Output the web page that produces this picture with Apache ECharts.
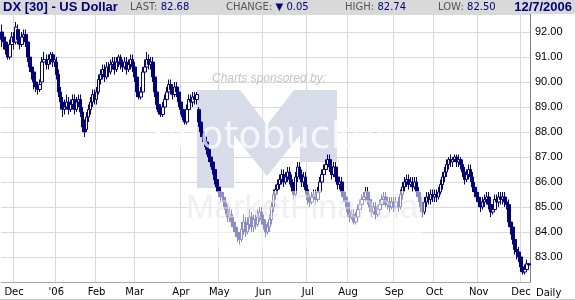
<!DOCTYPE html>
<html>
<head>
<meta charset="utf-8">
<script src="https://cdn.jsdelivr.net/npm/echarts@6/dist/echarts.min.js"></script>
<style>html,body{margin:0;padding:0;background:#fff}#c{width:575px;height:300px}</style>
</head>
<body>
<div id="c"></div>
<script>
// ---- data ----
const tradeMonths = ['2005-11','2005-12','2006-01','2006-02','2006-03','2006-04','2006-05','2006-06','2006-07','2006-08','2006-09','2006-10','2006-11','2006-12'];
const monthLabels = ['', 'Dec', "'06", 'Feb', 'Mar', 'Apr', 'May', 'Jun', 'Jul', 'Aug', 'Sep', 'Oct', 'Nov', 'Dec'];
const tradeDays = [
  [22,23,25,28,29,30],
  [1,2,5,6,7,8,9,12,13,14,15,16,19,20,21,22,23,27,28,29,30],
  [3,4,5,6,9,10,11,12,13,17,18,19,20,23,24,25,26,27,30,31],
  [1,2,3,6,7,8,9,10,13,14,15,16,17,21,22,23,24,27,28],
  [1,2,3,6,7,8,9,10,13,14,15,16,17,20,21,22,23,24,27,28,29,30,31],
  [3,4,5,6,7,10,11,12,13,17,18,19,20,21,24,25,26,27,28],
  [1,2,3,4,5,8,9,10,11,12,15,16,17,18,19,22,23,24,25,26,30,31],
  [1,2,5,6,7,8,9,12,13,14,15,16,19,20,21,22,23,26,27,28,29,30],
  [3,5,6,7,10,11,12,13,14,17,18,19,20,21,24,25,26,27,28,31],
  [1,2,3,4,7,8,9,10,11,14,15,16,17,18,21,22,23,24,25,28,29,30,31],
  [1,5,6,7,8,11,12,13,14,15,18,19,20,21,22,25,26,27,28,29],
  [2,3,4,5,6,9,10,11,12,13,16,17,18,19,20,23,24,25,26,27,30,31],
  [1,2,3,6,7,8,9,10,13,14,15,16,17,20,21,22,24,27,28,29,30],
  [1,4,5,6,7]
];
const opens = [
  92.0,91.8,91.6,91.4,91.0,91.5,
  91.8,91.6,92.1,91.7,91.5,91.8,91.9,91.6,91.0,90.6,90.4,90.0,89.8,89.7,90.0,90.8,90.9,90.7,90.9,91.1,90.8,
  90.8,90.3,89.6,89.2,88.9,89.0,89.2,88.9,89.1,89.3,88.9,89.2,89.3,88.8,88.2,88.1,88.6,88.9,89.2,89.5,
  89.3,89.6,90.1,90.3,90.5,90.2,90.6,90.4,90.7,90.8,90.5,90.8,91.0,90.7,90.6,90.8,90.5,90.7,90.9,
  90.6,90.2,89.6,89.4,89.6,90.4,90.6,90.9,90.7,90.8,90.2,89.6,89.1,88.8,88.7,89.0,89.3,89.6,89.9,89.7,89.5,89.8,89.6,
  89.2,88.9,88.6,88.4,88.9,89.3,89.2,89.4,89.3,88.9,88.4,88.0,87.8,87.6,87.3,87.0,86.8,86.5,86.1,
  85.8,85.6,85.4,85.2,84.9,84.6,84.7,84.4,84.2,84.0,83.8,83.7,84.1,84.4,84.0,84.3,84.6,84.2,84.5,84.3,84.6,84.8,
  84.5,84.3,84.0,84.2,84.5,85.0,85.5,85.7,85.9,86.1,86.3,86.0,86.2,86.4,86.1,85.8,85.5,86.2,86.6,86.3,86.0,86.2,
  85.7,85.3,85.2,85.4,85.5,85.3,85.6,86.0,86.3,86.5,86.7,86.9,86.6,86.3,86.6,86.2,85.9,86.0,85.6,85.4,
  85.2,84.8,84.6,84.7,84.4,84.6,84.9,85.1,85.3,85.4,85.6,85.3,85.0,84.8,85.0,84.7,84.9,85.1,85.3,85.4,85.1,85.2,85.0,
  85.2,85.0,85.2,85.0,85.5,85.8,86.0,86.1,85.9,86.0,85.8,86.0,85.6,85.4,85.0,84.8,85.2,85.4,85.3,85.5,
  85.4,85.5,85.4,85.6,85.9,86.2,86.4,86.7,86.9,86.8,86.9,87.0,86.8,86.9,86.7,86.4,86.1,86.3,86.5,86.2,85.8,85.6,
  85.4,85.2,85.0,85.2,85.3,85.4,85.1,84.8,84.9,85.3,85.2,85.4,85.3,85.4,85.2,85.1,84.4,84.2,83.7,83.3,83.2,
  83.0,82.6,82.4,82.5,82.73
];
const closes = [
  91.7,91.6,91.3,91.0,91.5,91.8,
  91.6,92.2,91.7,91.5,91.8,91.9,91.6,91.0,90.6,90.4,90.0,89.8,89.7,89.9,90.8,90.9,90.7,90.9,91.1,90.8,90.9,
  90.3,89.6,89.2,88.9,89.0,89.2,88.9,89.1,89.3,88.9,89.2,89.3,88.8,88.2,88.0,88.6,88.9,89.2,89.5,89.3,
  89.6,90.1,90.3,90.5,90.2,90.6,90.4,90.7,90.8,90.5,90.8,91.0,90.7,90.6,90.8,90.5,90.7,90.9,90.6,
  90.2,89.6,89.4,89.6,90.4,90.6,90.9,90.7,90.8,90.2,89.6,89.1,88.8,88.7,89.0,89.3,89.6,89.9,89.7,89.5,89.8,89.6,89.2,
  88.9,88.6,88.4,88.9,89.3,89.2,89.4,89.3,89.5,88.4,88.0,87.8,87.6,87.3,87.0,86.8,86.5,86.1,85.8,
  85.6,85.4,85.2,84.9,84.6,84.7,84.4,84.2,84.0,83.8,83.7,84.1,84.4,84.0,84.3,84.6,84.2,84.5,84.3,84.6,84.8,84.5,
  84.3,84.0,84.2,84.5,85.0,85.5,85.7,85.9,86.1,86.3,86.0,86.2,86.4,86.1,85.8,85.5,86.2,86.6,86.3,86.0,86.2,85.7,
  85.3,85.2,85.4,85.5,85.3,85.6,86.0,86.3,86.5,86.7,86.9,86.6,86.3,86.6,86.2,85.9,86.0,85.6,85.4,85.2,
  84.8,84.6,84.7,84.4,84.6,84.9,85.1,85.3,85.4,85.6,85.3,85.0,84.8,85.0,84.7,84.9,85.1,85.3,85.4,85.1,85.2,85.0,85.2,
  85.0,85.2,85.0,85.5,85.8,86.0,86.1,85.9,86.0,85.8,86.0,85.6,85.4,85.0,84.8,85.2,85.4,85.3,85.5,85.4,
  85.5,85.4,85.6,85.9,86.2,86.4,86.7,86.9,86.8,86.9,87.0,86.8,86.9,86.7,86.4,86.1,86.3,86.5,86.2,85.8,85.6,85.4,
  85.2,85.0,85.2,85.3,85.4,85.1,84.8,84.9,85.3,85.2,85.4,85.3,85.4,85.2,85.1,84.4,84.2,83.7,83.3,83.2,83.0,
  82.6,82.4,82.5,82.73,82.68
];
const lows = [
  91.4,91.3,91.1,90.9,90.9,91.3,
  91.3,91.5,91.5,91.3,91.4,91.6,91.4,90.8,90.4,90.1,89.7,89.6,89.5,89.6,89.9,90.5,90.5,90.5,90.7,90.6,90.6,
  90.1,89.4,88.9,88.6,88.7,88.9,88.7,88.8,88.9,88.7,88.8,89.0,88.6,88.0,87.8,88.0,88.4,88.7,89.0,89.1,
  89.1,89.5,89.9,90.1,90.0,90.1,90.2,90.3,90.5,90.3,90.4,90.6,90.5,90.4,90.5,90.3,90.4,90.5,90.4,
  90.0,89.4,89.3,89.3,89.5,90.2,90.4,90.5,90.5,90.0,89.4,88.9,88.7,88.6,88.6,88.8,89.1,89.4,89.5,89.3,89.4,89.4,89.0,
  88.7,88.4,88.3,88.3,88.7,89.0,89.0,89.1,89.1,88.2,87.8,87.6,87.4,87.1,86.8,86.6,86.3,85.9,85.6,
  85.4,85.2,85.0,84.7,84.4,84.4,84.2,84.0,83.8,83.6,83.5,83.6,83.9,83.8,83.9,84.1,84.0,84.0,84.1,84.2,84.4,84.3,
  84.1,83.8,83.9,84.0,84.3,84.8,85.3,85.5,85.7,85.9,85.8,85.9,86.0,85.9,85.6,85.3,85.4,86.0,86.1,85.8,85.8,85.5,
  85.1,85.0,85.1,85.2,85.1,85.2,85.4,85.8,86.1,86.3,86.5,86.4,86.1,86.2,86.0,85.7,85.7,85.4,85.2,85.0,
  84.6,84.4,84.5,84.3,84.3,84.4,84.7,84.9,85.1,85.2,85.1,84.8,84.6,84.7,84.5,84.6,84.7,84.9,85.1,85.0,84.9,84.8,84.9,
  84.8,84.9,84.8,84.9,85.3,85.6,85.8,85.7,85.8,85.6,85.7,85.4,85.2,84.8,84.6,84.7,85.0,85.1,85.1,85.2,
  85.2,85.2,85.3,85.5,85.7,86.0,86.2,86.5,86.6,86.6,86.8,86.6,86.6,86.5,86.2,85.9,86.0,86.1,86.0,85.6,85.4,85.2,
  85.0,84.8,84.9,85.0,85.1,84.9,84.6,84.7,84.8,85.0,85.0,85.1,85.1,85.0,84.9,84.2,83.9,83.5,83.1,82.9,82.8,
  82.4,82.3,82.3,82.4,82.50
];
const highs = [
  92.3,92.0,91.8,91.6,91.7,92.0,
  92.0,92.4,92.3,91.9,92.0,92.1,92.1,91.8,91.2,90.8,90.6,90.2,90.0,90.1,91.0,91.2,91.1,91.1,91.2,91.2,91.1,
  91.0,90.5,89.8,89.4,89.3,89.5,89.4,89.3,89.5,89.5,89.4,89.5,89.5,89.0,88.5,88.8,89.1,89.4,89.7,89.7,
  89.8,90.3,90.5,90.7,90.7,90.8,90.8,90.9,91.0,91.0,91.0,91.1,91.1,90.9,91.0,91.0,90.9,91.1,91.1,
  90.8,90.4,89.8,89.8,90.6,90.9,91.2,91.1,91.0,91.0,90.4,89.8,89.3,89.0,89.2,89.5,89.8,90.1,90.1,89.9,90.0,90.0,89.8,
  89.4,89.1,88.8,89.1,89.5,89.5,89.6,89.6,89.6,89.0,88.6,88.2,88.0,87.8,87.5,87.2,87.0,86.7,86.3,
  86.0,85.8,85.6,85.4,85.1,85.0,84.9,84.6,84.4,84.2,84.0,84.4,84.7,84.6,84.6,84.9,84.8,84.7,84.7,84.9,85.0,85.0,
  84.7,84.5,84.4,84.7,85.2,85.7,85.9,86.1,86.3,86.5,86.5,86.4,86.6,86.6,86.3,86.0,86.4,86.8,86.8,86.5,86.4,86.4,
  85.9,85.5,85.6,85.7,85.7,85.8,86.2,86.5,86.7,86.9,87.1,87.1,86.8,86.8,86.8,86.4,86.2,86.2,85.8,85.6,
  85.4,85.0,84.9,84.9,84.8,85.1,85.3,85.5,85.6,85.8,85.8,85.5,85.2,85.2,85.2,85.1,85.3,85.5,85.6,85.6,85.4,85.4,85.4,
  85.4,85.4,85.4,85.7,86.0,86.2,86.3,86.3,86.2,86.2,86.2,86.2,85.8,85.6,85.2,85.4,85.6,85.6,85.7,85.7,
  85.7,85.7,85.8,86.1,86.4,86.6,86.9,87.0,87.1,87.0,87.1,87.1,87.1,87.0,86.9,86.6,86.5,86.7,86.7,86.4,86.0,85.8,
  85.6,85.4,85.4,85.5,85.6,85.6,85.3,85.1,85.5,85.5,85.6,85.6,85.6,85.6,85.4,85.3,84.6,84.4,83.9,83.6,83.4,
  83.1,82.8,82.7,82.9,82.74
];
const yTicks = { min: 82, max: 92.72, step: 1 };

// ---- build ----
const dates = [];
const monthStart = {};
tradeMonths.forEach((m, k) => {
  tradeDays[k].forEach((d, j) => {
    if (j === 0 && monthLabels[k]) monthStart[dates.length] = monthLabels[k];
    dates.push(m + '-' + String(d).padStart(2, '0'));
  });
});
const ohlc = dates.map((_, i) => [opens[i], closes[i], lows[i], highs[i]]);
const n = closes.length;
const last = closes[n - 1], prev = closes[n - 2];
const isStart = (i) => monthStart[i] !== undefined;

const NAVY = '#000080';
const chart = echarts.init(document.getElementById('c'), null, { renderer: 'canvas' });
chart.setOption({
  animation: false,
  backgroundColor: '#ffffff',
  grid: { left: 1, right: 45, top: 14, bottom: 18 },
  xAxis: {
    type: 'category',
    data: dates,
    boundaryGap: true,
    axisLine: { show: true, lineStyle: { color: '#a8a8a8', width: 1 } },
    axisTick: { show: false },
    axisLabel: {
      interval: (i) => isStart(i),
      formatter: (v, i) => monthStart[i] || '',
      color: '#000', fontSize: 10, fontFamily: 'DejaVu Sans', margin: 5
    },
    splitLine: { show: true, interval: (i) => isStart(i), lineStyle: { color: '#d9d9d9', width: 1 } }
  },
  yAxis: {
    type: 'value',
    position: 'right',
    min: yTicks.min, max: yTicks.max, interval: yTicks.step,
    axisLine: { show: true, lineStyle: { color: '#808080', width: 1 } },
    axisTick: { show: false },
    axisLabel: {
      showMinLabel: false, showMaxLabel: false,
      formatter: (v) => v.toFixed(2),
      color: '#000', fontSize: 11, fontFamily: 'Liberation Sans', margin: 5
    },
    splitLine: { show: true, lineStyle: { color: '#d9d9d9', width: 1 } }
  },
  series: [{
    type: 'candlestick',
    data: ohlc,
    barWidth: 3,
    z: 5,
    itemStyle: { color: '#ffffff', color0: NAVY, borderColor: NAVY, borderColor0: NAVY, borderWidth: 1 },
    markLine: {
      silent: true, symbol: 'none', animation: false,
      lineStyle: { opacity: 0, width: 0 },
      label: {
        show: true, position: 'end', distance: 2,
        formatter: last.toFixed(2), color: '#fff', backgroundColor: NAVY,
        fontSize: 11, fontFamily: 'Liberation Sans', padding: [1, 8, 0, 6]
      },
      data: [{ yAxis: last }]
    }
  }],
  graphic: [
    // watermark M behind series
    { type: 'polygon', z: 1, silent: true,
      shape: { points: [[197,90],[240,90],[267,125],[294,90],[337,90],[337,162],[300,162],[300,135],[267,176],[234,135],[234,188],[197,188]] },
      style: { fill: '#d8dce9' } },
    { type: 'text', z: 1, silent: true,
      style: { x: 212, y: 79, text: 'Charts sponsored by:', font: 'italic 12px "Liberation Sans"', fill: '#c4c4c4', verticalAlign: 'middle' } },
    // overlays above series
    { type: 'text', z: 100, silent: true,
      style: { x: 152, y: 157, text: 'photobucket', font: '38px "DejaVu Sans"', fill: 'rgba(255,255,255,0.75)', verticalAlign: 'bottom' } },
    { type: 'rect', z: 100, silent: true,
      shape: { x: 188, y: 191, width: 234, height: 58 }, style: { fill: 'rgba(255,255,255,0.55)' } },
    { type: 'text', z: 101, silent: true,
      style: { x: 186, y: 209, text: 'MarketFinancial', font: '34px "Liberation Sans"', fill: 'rgba(225,225,232,0.5)', verticalAlign: 'middle' } },
    // header
    { type: 'rect', z: 110, shape: { x: 0, y: 0, width: 575, height: 14 }, style: { fill: '#d9d9d9' } },
    { type: 'text', z: 111, style: { x: 3, y: 7, text: 'DX [30] - US Dollar', font: 'bold 13px "Liberation Sans"', fill: NAVY, verticalAlign: 'middle' } },
    { type: 'text', z: 111, style: { x: 130, y: 7, verticalAlign: 'middle',
      text: '{g|LAST:} {v|' + last.toFixed(2) + '}',
      rich: { g: { fill: '#555', font: '10px "DejaVu Sans"' }, v: { fill: NAVY, font: '10px "DejaVu Sans"' } } } },
    { type: 'text', z: 111, style: { x: 226, y: 7, verticalAlign: 'middle',
      text: '{g|CHANGE:} {v|▼ ' + (prev - last).toFixed(2) + '}',
      rich: { g: { fill: '#555', font: '10px "DejaVu Sans"' }, v: { fill: NAVY, font: '10px "DejaVu Sans"' } } } },
    { type: 'text', z: 111, style: { x: 345, y: 7, verticalAlign: 'middle',
      text: '{g|HIGH:} {v|' + highs[n - 1].toFixed(2) + '}',
      rich: { g: { fill: '#555', font: '10px "DejaVu Sans"' }, v: { fill: NAVY, font: '10px "DejaVu Sans"' } } } },
    { type: 'text', z: 111, style: { x: 438, y: 7, verticalAlign: 'middle',
      text: '{g|LOW:} {v|' + lows[n - 1].toFixed(2) + '}',
      rich: { g: { fill: '#555', font: '10px "DejaVu Sans"' }, v: { fill: NAVY, font: '10px "DejaVu Sans"' } } } },
    { type: 'text', z: 111, style: { x: 572, y: 7, text: '12/7/2006', align: 'right', verticalAlign: 'middle', font: 'bold 13px "Liberation Sans"', fill: NAVY } },
    // footer
    { type: 'text', z: 111, style: { x: 536, y: 293, text: 'Daily', font: '10px "DejaVu Sans"', fill: '#000', verticalAlign: 'middle' } },
    { type: 'rect', z: 111, shape: { x: 0, y: 299, width: 575, height: 1 }, style: { fill: '#cccccc' } }
  ]
});
</script>
</body>
</html>
